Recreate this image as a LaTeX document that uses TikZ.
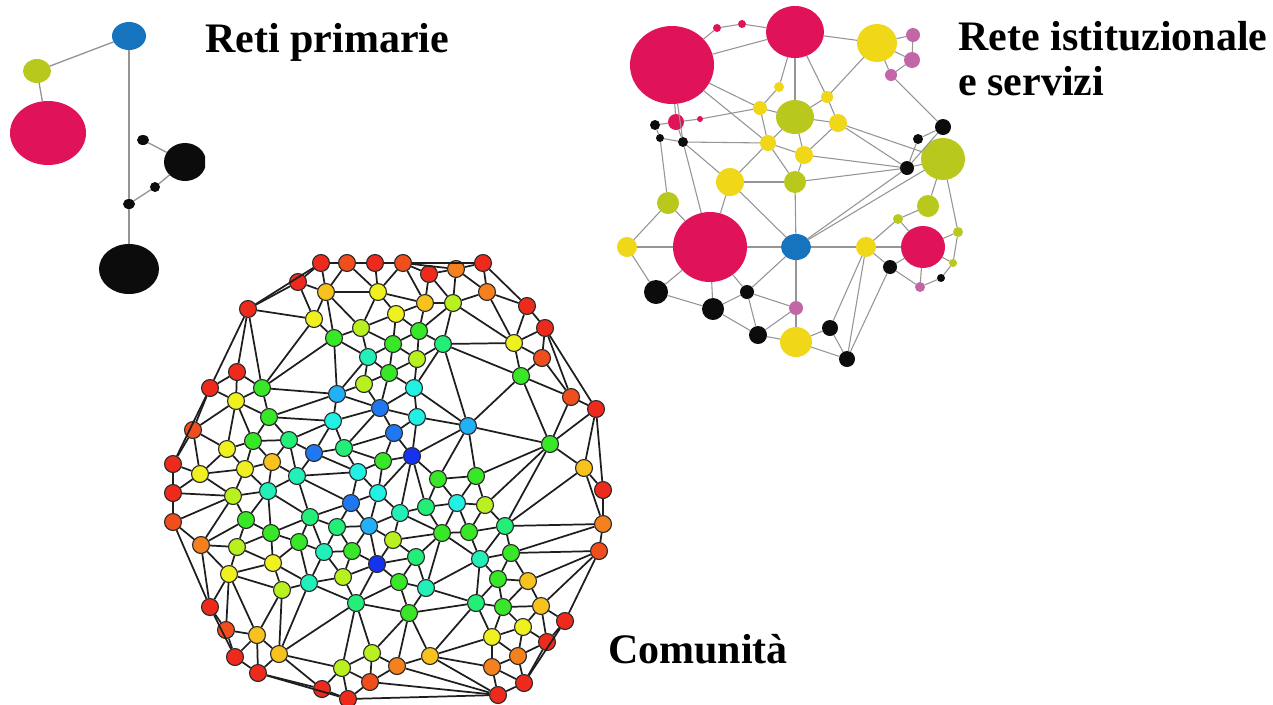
\documentclass[tikz,border=0pt]{standalone}
\usepackage{fontspec}
\setmainfont{Liberation Serif}
\usetikzlibrary{shapes.geometric}
\ExplSyntaxOn
\int_new:N \g_dl_n_int
\intarray_new:Nn \g_dl_x_intarray { 400 }
\intarray_new:Nn \g_dl_y_intarray { 400 }
\clist_new:N \g_dl_edges_clist
\int_new:N \l_dl_xi_int
\int_new:N \l_dl_yi_int
\int_new:N \l_dl_xj_int
\int_new:N \l_dl_yj_int
\int_new:N \l_dl_xk_int
\int_new:N \l_dl_yk_int
\int_new:N \l_dl_dx_int
\int_new:N \l_dl_dy_int
\int_new:N \l_dl_mx_int
\int_new:N \l_dl_my_int
\int_new:N \l_dl_w_int
\int_new:N \l_dl_cross_int
\int_new:N \l_dl_dot_int
\int_new:N \l_dl_cot_int
\int_new:N \l_dl_minL_int
\int_new:N \l_dl_minR_int
\int_new:N \l_dl_maxsq_int
\bool_new:N \l_dl_block_bool
\tl_new:N \DLEdges
\NewDocumentCommand \DLAddNode { m m }
  {
    \int_gincr:N \g_dl_n_int
    \intarray_gset:Nnn \g_dl_x_intarray { \g_dl_n_int } { #1 }
    \intarray_gset:Nnn \g_dl_y_intarray { \g_dl_n_int } { #2 }
  }
\cs_new_protected:Npn \dl_third:nnn #1#2#3
  {
    \bool_if:NF \l_dl_block_bool
      {
        \int_compare:nNnF {#3} = {#1}
          {
            \int_compare:nNnF {#3} = {#2}
              {
                \int_set:Nn \l_dl_xk_int { \intarray_item:Nn \g_dl_x_intarray {#3} }
                \int_set:Nn \l_dl_yk_int { \intarray_item:Nn \g_dl_y_intarray {#3} }
                \bool_lazy_and:nnT
                  { \int_compare_p:nNn { \int_abs:n { \l_dl_xk_int - \l_dl_mx_int } } < { \l_dl_w_int } }
                  { \int_compare_p:nNn { \int_abs:n { \l_dl_yk_int - \l_dl_my_int } } < { \l_dl_w_int } }
                  {
                    \int_set:Nn \l_dl_cross_int
                      { \l_dl_dx_int * ( \l_dl_yk_int - \l_dl_yi_int ) - \l_dl_dy_int * ( \l_dl_xk_int - \l_dl_xi_int ) }
                    \int_set:Nn \l_dl_dot_int
                      { ( \l_dl_xi_int - \l_dl_xk_int ) * ( \l_dl_xj_int - \l_dl_xk_int ) + ( \l_dl_yi_int - \l_dl_yk_int ) * ( \l_dl_yj_int - \l_dl_yk_int ) }
                    \int_compare:nNnTF { \l_dl_cross_int } > { 0 }
                      {
                        \int_set:Nn \l_dl_cot_int { \int_div_truncate:nn { \l_dl_dot_int * 1000 } { \l_dl_cross_int } }
                        \int_compare:nNnT { \l_dl_cot_int } < { \l_dl_minL_int }
                          { \int_set_eq:NN \l_dl_minL_int \l_dl_cot_int }
                      }
                      {
                        \int_compare:nNnTF { \l_dl_cross_int } < { 0 }
                          {
                            \int_set:Nn \l_dl_cot_int { \int_div_truncate:nn { \l_dl_dot_int * 1000 } { - \l_dl_cross_int } }
                            \int_compare:nNnT { \l_dl_cot_int } < { \l_dl_minR_int }
                              { \int_set_eq:NN \l_dl_minR_int \l_dl_cot_int }
                          }
                          {
                            \int_compare:nNnT { \l_dl_dot_int } < { 0 }
                              { \bool_set_true:N \l_dl_block_bool }
                          }
                      }
                  }
              }
          }
      }
  }
\cs_new_protected:Npn \dl_pair:nn #1#2
  {
    \int_set:Nn \l_dl_xi_int { \intarray_item:Nn \g_dl_x_intarray {#1} }
    \int_set:Nn \l_dl_yi_int { \intarray_item:Nn \g_dl_y_intarray {#1} }
    \int_set:Nn \l_dl_xj_int { \intarray_item:Nn \g_dl_x_intarray {#2} }
    \int_set:Nn \l_dl_yj_int { \intarray_item:Nn \g_dl_y_intarray {#2} }
    \int_set:Nn \l_dl_dx_int { \l_dl_xj_int - \l_dl_xi_int }
    \int_set:Nn \l_dl_dy_int { \l_dl_yj_int - \l_dl_yi_int }
    \int_compare:nNnF { \l_dl_dx_int * \l_dl_dx_int + \l_dl_dy_int * \l_dl_dy_int } > { \l_dl_maxsq_int }
      {
        \int_set:Nn \l_dl_minL_int { 500000000 }
        \int_set:Nn \l_dl_minR_int { 500000000 }
        \bool_set_false:N \l_dl_block_bool
        \int_set:Nn \l_dl_mx_int { ( \l_dl_xi_int + \l_dl_xj_int ) / 2 }
        \int_set:Nn \l_dl_my_int { ( \l_dl_yi_int + \l_dl_yj_int ) / 2 }
        \int_set:Nn \l_dl_w_int { ( \int_abs:n { \l_dl_dx_int } + \int_abs:n { \l_dl_dy_int } ) / 2 + 110 }
        \int_step_inline:nn { \g_dl_n_int } { \dl_third:nnn {#1} {#2} {##1} }
        \bool_if:NF \l_dl_block_bool
          {
            \int_compare:nNnT { \l_dl_minL_int + \l_dl_minR_int } > { 0 }
              { \clist_gput_right:Nn \g_dl_edges_clist { #1/#2 } }
          }
      }
  }
\cs_new_protected:Npn \dl_outer:n #1
  { \int_step_inline:nnn { #1 + 1 } { \g_dl_n_int } { \dl_pair:nn { #1 } { ##1 } } }
\NewDocumentCommand \DLCompute { m }
  {
    \int_set:Nn \l_dl_maxsq_int { (#1) * (#1) }
    \clist_gclear:N \g_dl_edges_clist
    \int_step_inline:nn { \g_dl_n_int - 1 } { \dl_outer:n { ##1 } }
    \tl_gset:Nx \DLEdges { \clist_use:Nn \g_dl_edges_clist { , } }
  }
\ExplSyntaxOff
% community colours (jet-like)
\definecolor{jR}{HTML}{EE2A1C}
\definecolor{jRO}{HTML}{F04E1C}
\definecolor{jO}{HTML}{F5801E}
\definecolor{jYO}{HTML}{F7C21E}
\definecolor{jY}{HTML}{EEF020}
\definecolor{jYG}{HTML}{B8F020}
\definecolor{jG}{HTML}{38E828}
\definecolor{jSG}{HTML}{22EE78}
\definecolor{jAQ}{HTML}{22F0B8}
\definecolor{jCY}{HTML}{22F0E2}
\definecolor{jDS}{HTML}{22B0F6}
\definecolor{jBL}{HTML}{2078F0}
\definecolor{jDB}{HTML}{1432F0}
\definecolor{cborder}{HTML}{2A2A2A}
\definecolor{cline}{HTML}{1E1E1E}
% institutional network colours
\definecolor{scr}{HTML}{E0135A}
\definecolor{sye}{HTML}{F0D818}
\definecolor{syg}{HTML}{B9C81C}
\definecolor{sbl}{HTML}{1673BE}
\definecolor{sor}{HTML}{C266A8}
\definecolor{sbk}{HTML}{0C0C0C}
\definecolor{sgray}{HTML}{959595}
\tikzset{
  cnode/.style={circle,draw=cborder,line width=0.85pt,inner sep=0pt,minimum size=12.7pt},
  cedge/.style={draw=cline,line width=1.3pt},
  snode/.style n args={3}{ellipse,fill=#1,draw=none,inner sep=0pt,outer sep=0pt,minimum width={1.5pt*#2},minimum height={1.5pt*#3}},
  sedge/.style={draw=sgray,line width=0.8pt},
  lbl/.style={font=\fontsize{31.5}{36}\selectfont\bfseries,anchor=base west,inner sep=0pt},
}
\begin{document}
\begin{tikzpicture}[x=0.75pt,y=-0.75pt]
\useasboundingbox (0,0) rectangle (1273,704);
\fill[white] (0,0) rectangle (1273,704);
% ---------- Reti primarie ----------
\begin{scope}
\clip (0,0) rectangle (205,300);
\foreach \n/\x/\y/\c/\rx/\ry in {
  1/129/36/sbl/17/14, 2/37/71/syg/14/12, 3/48/133/scr/38/32, 4/143/140/sbk/6/5,
  5/185/162/sbk/21/19, 6/155/187/sbk/5/5, 7/129/204/sbk/6/5, 8/129/269/sbk/30/25}
  \node[snode={\c}{\rx}{\ry}] (p\n) at (\x,\y) {};
\foreach \a/\b in {1/2, 2/3, 1/7, 7/8, 4/5, 7/6, 6/5}
  \draw[sedge,line width=1pt] (p\a) -- (p\b);
\end{scope}
% ---------- Rete istituzionale e servizi ----------
\foreach \n/\x/\y/\c/\rx/\ry in {
  A/672/65/scr/42/39, B/717/28/scr/4/4, C/742/24/scr/4/4, D/795/32/scr/29/26,
  E/877/43/sye/20/19, F/913/35/sor/7/7, G/912/60/sor/8/8, H/891/75/sor/6/6,
  I/779/87/sye/5/5, J/827/97/sye/6/6, K/760/108/sye/7/7, L/795/117/syg/19/17,
  M/838/123/sye/9/9, N/655/125/sbk/5/5, O/676/122/scr/8/8, P/700/119/scr/3/3,
  Q/660/138/sbk/4/4, R/683/142/sbk/5/5, S/768/143/sye/8/8, T/804/155/sye/9/9,
  U/943/127/sbk/8/8, V/918/139/sbk/5/5, W/943/159/syg/22/21, X/907/168/sbk/7/7,
  Y/730/182/sye/14/14, Z/795/182/syg/11/11, AA/668/203/syg/11/11, AB/928/206/syg/11/11,
  AC/898/219/syg/5/5, AD/958/232/syg/5/5, AE/627/247/sye/10/10, AF/710/247/scr/37/35,
  AG/796/247/sbl/15/13, AH/866/247/sye/10/10, AI/923/247/scr/22/21, AJ/953/263/syg/4/4,
  AK/890/267/sbk/7/7, AL/941/278/sbk/4/4, AM/920/287/sor/5/5, AN/656/292/sbk/12/12,
  AO/747/292/sbk/7/7, AP/713/309/sbk/11/11, AQ/796/308/sor/7/7, AR/830/328/sbk/8/8,
  AS/758/335/sbk/9/9, AT/796/342/sye/16/15, AU/847/359/sbk/8/8}
  \node[snode={\c}{\rx}{\ry}] (s\n) at (\x,\y) {};
\foreach \a/\b in {A/B, B/C, C/D, A/D, D/E, E/F, E/G, F/G, G/H, E/H, H/U, D/I, D/L, D/J,
  I/K, A/K, A/S, A/O, A/R, K/L, K/S, L/S, L/M, L/T, J/M, J/L, M/T, E/J, M/X, M/W, T/X,
  Z/X, R/S, P/K, O/P, N/O, N/Q, Q/R, O/R, S/T, S/Z, S/Y, T/Z, Z/AG, Y/AF, Y/Z, Y/AG, R/Y,
  R/AF, Q/AA, AA/AE, AA/AF, AE/AF, AE/AN, AF/AN, AF/AP, AF/AG, AP/AN, AP/AO, AP/AS,
  AO/AS, AO/AG, AO/AF, AO/AQ, AG/AQ, AQ/AT, AQ/AS, AS/AT, AT/AU, AR/AT, AR/AU, AR/AH,
  AH/AU, AK/AU, AH/AG, AG/X, AG/W, AH/AI, AH/AC, AC/AB, AB/W, AC/AI, AI/AD, AI/AJ,
  AJ/AD, AD/W, AI/AK, AI/AM, AK/AM, AM/AL, AL/AJ, AH/AK, X/U, X/V, V/U, X/W}
  \draw[sedge] (s\a) -- (s\b);
% ---------- Comunita ----------
\foreach \x/\y/\c [count=\i] in {
  321/263/R,347/263/RO,375/263/R,403/263/RO,429/274/R,456/269/O,483/263/R,298/282/R,
  326/292/YO,378/292/Y,425/303/YO,453/303/YG,487/292/O,248/309/R,314/319/Y,361/328/YG,
  396/314/Y,419/331/G,527/306/R,545/328/R,334/338/G,393/344/G,443/344/SG,514/343/Y,
  542/358/RO,368/357/AQ,417/359/YG,389/373/G,521/376/G,237/372/R,210/388/R,262/388/G,
  364/384/YG,414/388/CY,571/397/RO,596/409/R,236/401/Y,337/394/DS,380/408/BL,269/417/G,
  333/421/CY,417/417/CY,468/426/DS,193/430/RO,394/433/BL,550/444/G,253/441/G,289/440/SG,
  314/453/BL,344/448/SG,412/456/DB,227/449/Y,383/461/G,272/462/YO,173/464/R,200/474/Y,
  245/469/Y,297/476/AQ,358/472/CY,438/479/G,476/476/G,584/468/YO,173/493/R,233/496/YG,
  268/491/AQ,378/493/CY,351/503/BL,603/490/R,400/513/AQ,426/507/SG,457/503/CY,485/505/YG,
  173/522/RO,246/520/G,310/517/SG,337/527/SG,369/526/DS,271/533/G,442/533/G,469/532/G,
  505/526/SG,603/524/O,201/545/O,299/542/G,237/547/YG,324/552/AQ,352/551/G,393/540/YG,
  416/557/SG,480/559/AQ,511/553/G,599/551/RO,273/563/Y,377/564/DB,229/574/Y,309/583/AQ,
  343/577/YG,399/582/G,426/588/AQ,498/579/G,528/581/YO,282/590/YG,356/603/SG,476/603/SG,
  503/607/G,541/606/YO,210/607/R,409/613/G,565/621/R,523/627/Y,226/630/RO,257/635/YO,
  492/637/Y,547/642/R,372/653/YG,430/656/YO,397/666/O,518/656/O,235/657/R,279/654/YO,
  342/668/YG,492/667/O,258/673/R,370/682/RO,524/683/R,322/689/R,348/699/R,498/695/R}
  {\node[cnode,fill=j\c] (c\i) at (\x,\y) {}; \DLAddNode{\x}{\y}}
\DLCompute{160}
\foreach \a/\b in \DLEdges
  \draw[cedge] (c\a) -- (c\b);
% ---------- labels ----------
\node[lbl] (t1) at (205,52) {Reti primarie};
\node[lbl] (t2) at (958,50) {Rete istituzionale};
\node[lbl] (t3) at (958,95) {e servizi};
\node[lbl] (t4) at (608,663) {Comunità};
\end{tikzpicture}
\end{document}
